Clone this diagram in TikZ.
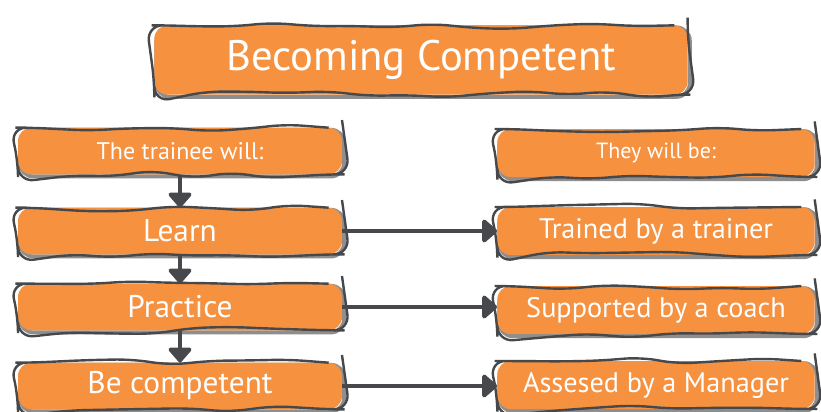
\documentclass[tikz,border=0pt]{standalone}
\usepackage{fontspec}
\setmainfont{PT Sans}
\usetikzlibrary{positioning,arrows.meta,decorations.pathmorphing}
\definecolor{boxorange}{HTML}{F5913F}
\definecolor{ink}{HTML}{46484C}
\definecolor{rim}{HTML}{8E8E8E}

\tikzset{
  sketchbox/.style={fill=boxorange, text=white, rounded corners=10pt, inner sep=0pt,
    preaction={draw=rim, line width=3pt, transform canvas={xshift=1.6pt,yshift=-1.6pt}},
    postaction={draw=ink, line width=1.8pt, decorate,
      decoration={random steps, segment length=30pt, amplitude=2.8pt}, rounded corners=12pt}},
  stepbox/.style={sketchbox, minimum width=243pt, minimum height=35pt, font=\fontsize{23.5}{27}\selectfont},
  sidebox/.style={sketchbox, minimum width=238pt, minimum height=36pt, font=\fontsize{21.2}{25}\selectfont},
  link/.style={draw=ink, line width=3pt, -{Triangle[round,length=12pt,width=20pt]}}
}

\begin{document}
\begin{tikzpicture}[x=0.75pt,y=-0.75pt]
\pgfmathsetseed{7}
\useasboundingbox (0,0) rectangle (821,411);
% title
\node[sketchbox, minimum width=400pt, minimum height=52pt, font=\fontsize{32}{37}\selectfont]
  (title) at (421,60) {Becoming Competent};
% what the trainee does
\node[stepbox, font=\fontsize{18}{21}\selectfont] (trainee) at (180,151) {The trainee will:};
\node[stepbox] (learn) at (180,231) {Learn};
\node[stepbox] (practice) at (180,307) {Practice};
\node[stepbox] (competent) at (180,386) {Be competent};
% how they get there
\node[sidebox, font=\fontsize{16.5}{20}\selectfont] (they) at (656,153) {They will be:};
\node[sidebox] (trained) at (656,231) {Trained by a trainer};
\node[sidebox] (supported) at (656,310) {Supported by a coach};
\node[sidebox] (assessed) at (656,385) {Assesed by a Manager};
% down the left column
\draw[link] (trainee) -- (learn);
\draw[link] (learn) -- (practice);
\draw[link] (practice) -- (competent);
% across to the right column
\draw[link] (learn) -- (learn -| trained.west);
\draw[link] (practice) -- (practice -| supported.west);
\draw[link] (competent) -- (competent -| assessed.west);
\end{tikzpicture}
\end{document}
